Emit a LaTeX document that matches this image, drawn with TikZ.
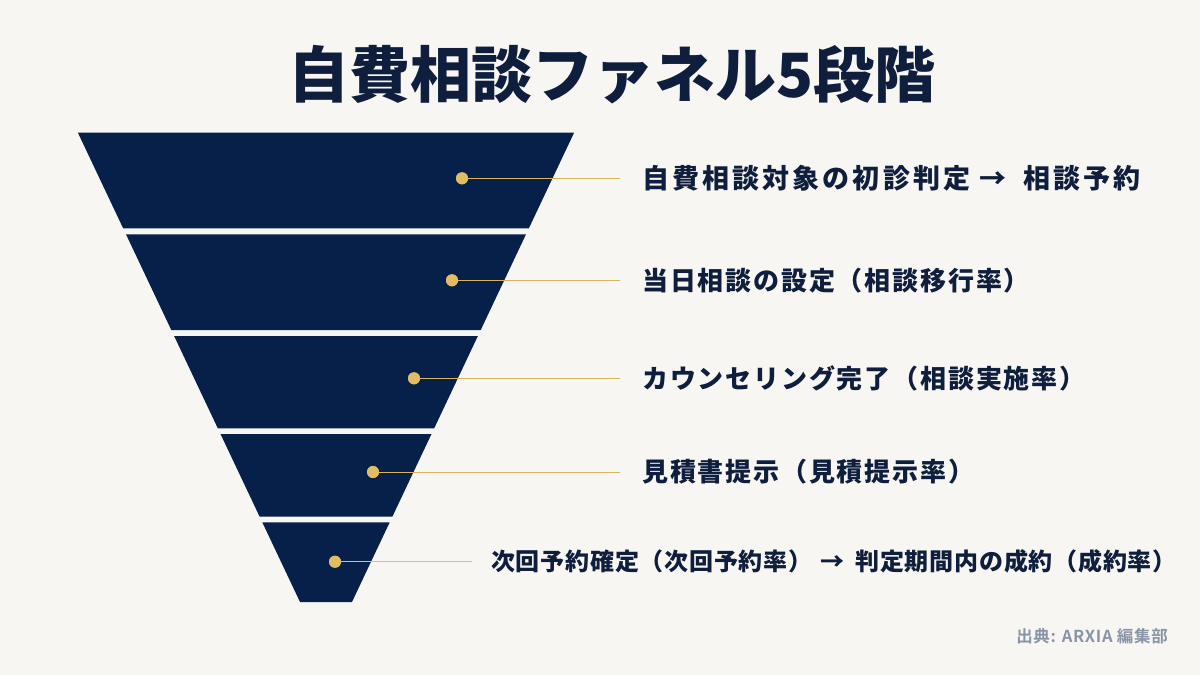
\documentclass[tikz,border=0pt]{standalone}
\usepackage{fontspec}
\newfontfamily\jpb{Noto Sans CJK JP Bold}
\newfontfamily\jpk{Noto Sans CJK JP Black}
\newfontfamily\jpkl[LetterSpace=7]{Noto Sans CJK JP Black}
\newfontfamily\jpkw[LetterSpace=11.5]{Noto Sans CJK JP Black}
\newfontfamily\jpks[LetterSpace=3.2]{Noto Sans CJK JP Black}
\newfontfamily\jpbs[LetterSpace=4]{Noto Sans CJK JP Bold}
\definecolor{bgc}{HTML}{F7F6F3}
\definecolor{navy}{HTML}{06204A}
\definecolor{ink}{HTML}{0E1E3C}
\definecolor{gold}{HTML}{E0BD63}
\definecolor{goldline}{HTML}{D8B45C}
\definecolor{paleline}{HTML}{CDBF98}
\definecolor{srcgray}{HTML}{8A94A8}
\tikzset{
  dot/.style={circle,fill=gold,inner sep=0pt,minimum size=12pt},
  lbl/.style={anchor=west,inner sep=0pt,text=ink,font=\jpkl\fontsize{26}{30}\selectfont},
  lblwide/.style={anchor=west,inner sep=0pt,text=ink,font=\jpkw\fontsize{27}{30}\selectfont},
  lblsmall/.style={anchor=west,inner sep=0pt,text=ink,font=\jpks\fontsize{24}{28}\selectfont},
  conn/.style={draw=goldline,line width=1pt},
  connpale/.style={draw=paleline,line width=1pt},
  band/.style={fill=navy}
}
\begin{document}
\begin{tikzpicture}[x=1pt,y=-1pt]
\useasboundingbox (0,0) rectangle (1200,675);
\fill[bgc] (0,0) rectangle (1200,675);
% title
\node[text=ink,inner sep=0pt,font=\jpk\fontsize{61}{72}\selectfont] (title) at (612,75) {自費相談ファネル5段階};
% funnel bands
\foreach \t/\b in {132.7/228.3,234.3/330,336/428.3,434/516.7,522.3/602}{
  \pgfmathsetmacro{\ht}{248.1-0.4733*(\t-132.7)}
  \pgfmathsetmacro{\hb}{248.1-0.4733*(\b-132.7)}
  \fill[band] ({326-\ht},\t) -- ({326+\ht},\t) -- ({326+\hb},\b) -- ({326-\hb},\b) -- cycle;
}
% labels
\node[lblwide] (l1) at (642,178.3) {自費相談対象の初診判定\hspace{9pt}→\hspace{17pt}相談予約};
\node[lbl] (l2) at (642,280.3) {当日相談の設定（相談移行率）};
\node[lbl] (l3) at (642,378.3) {カウンセリング完了（相談実施率）};
\node[lbl] (l4) at (642,472) {見積書提示（見積提示率）};
\node[lblsmall] (l5) at (491,561.7) {次回予約確定（次回予約率）\hspace{8pt}→\hspace{11pt}判定期間内の成約（成約率）};
% connectors and dots
\node[dot] (d1) at (462,178.3) {};
\node[dot] (d2) at (452,280.3) {};
\node[dot] (d3) at (414,378.3) {};
\node[dot] (d4) at (373,472) {};
\node[dot] (d5) at (335,561.7) {};
\draw[conn,shorten >=22pt] (d1.center) -- (l1.west);
\draw[conn,shorten >=22pt] (d2.center) -- (l2.west);
\draw[conn,shorten >=22pt] (d3.center) -- (l3.west);
\draw[conn,shorten >=22pt] (d4.center) -- (l4.west);
\draw[connpale,shorten >=19pt] (d5.center) -- (l5.west);
\foreach \d in {d1,d2,d3,d4,d5}{\fill[gold] (\d) circle (6pt);}
% source
\node[anchor=east,inner sep=0pt,text=srcgray,font=\jpbs\fontsize{16.5}{19}\selectfont] (src) at (1168,636.5) {出典: ARXIA 編集部};
\end{tikzpicture}
\end{document}
